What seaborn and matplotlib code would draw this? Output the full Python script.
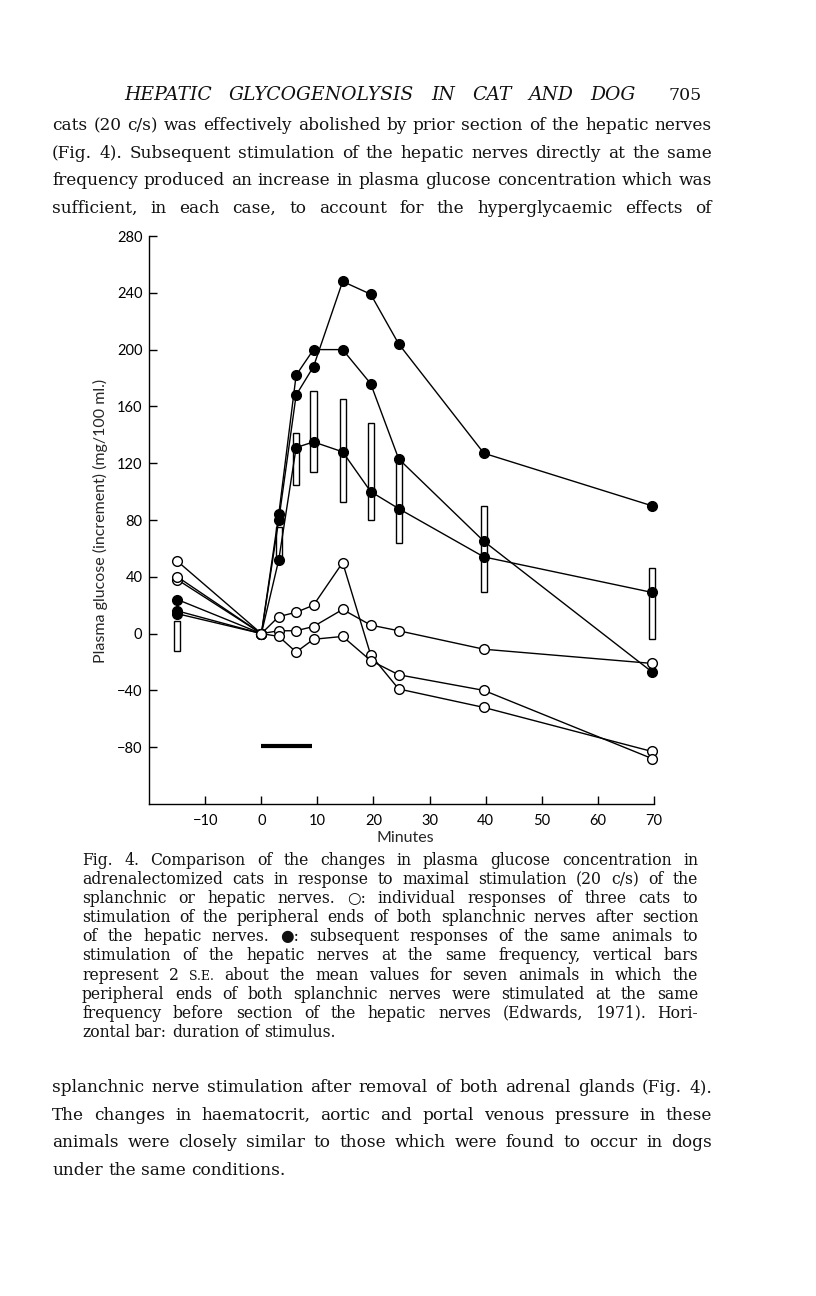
import matplotlib
matplotlib.use("Agg")
import matplotlib.pyplot as plt
import seaborn as sns
import pandas as pd

# ---------------- data ----------------
times = [-15, 0, 3.1, 6.2, 9.3, 14.5, 19.5, 24.5, 39.7, 69.7]
# open circles: splanchnic stimulation after section of hepatic nerves (3 cats)
open_cat1 = [51, 0, 12, 15, 20, 50, -15, -39, -52, -83]
open_cat2 = [38, 0, 2, 2, 5, 17, 6, 2, -11, -21]
open_cat3 = [40, 0, -2, -13, -4, -2, -19, -29, -40, -88]
# filled circles: subsequent hepatic nerve stimulation (same 3 cats)
fill_cat1 = [16, 0, 80, 168, 188, 248, 239, 204, 127, 90]
fill_cat2 = [24, 0, 84, 182, 200, 200, 176, 123, 65, -27]
fill_cat3 = [14, 0, 52, 131, 135, 128, 100, 88, 54, 29]
# vertical bars: mean +/- 2 s.e., seven animals (Edwards, 1971)
bar_times = [-15, 3.1, 6.2, 9.3, 14.5, 19.5, 24.5, 39.7, 69.7]
bar_low = [-12, 53, 105, 114, 93, 80, 64, 29, -4]
bar_high = [9, 75, 141, 171, 165, 148, 125, 90, 46]
# horizontal bar: duration of stimulus
stim_start, stim_end, stim_level = 0, 9, -79

x_ticks = [-10, 0, 10, 20, 30, 40, 50, 60, 70]
y_ticks = [-80, -40, 0, 40, 80, 120, 160, 200, 240, 280]

header = "HEPATIC GLYCOGENOLYSIS IN CAT AND DOG"
page_no = "705"
top_lines = [
    "cats (20 c/s) was effectively abolished by prior section of the hepatic nerves",
    "(Fig. 4). Subsequent stimulation of the hepatic nerves directly at the same",
    "frequency produced an increase in plasma glucose concentration which was",
    "sufficient, in each case, to account for the hyperglycaemic effects of",
]
caption_lines = [
    "Fig. 4. Comparison of the changes in plasma glucose concentration in",
    "adrenalectomized cats in response to maximal stimulation (20 c/s) of the",
    "splanchnic or hepatic nerves. \u25cb: individual responses of three cats to",
    "stimulation of the peripheral ends of both splanchnic nerves after section",
    "of the hepatic nerves. \u25cf: subsequent responses of the same animals to",
    "stimulation of the hepatic nerves at the same frequency, vertical bars",
    "represent 2 \u00a7S.E. about the mean values for seven animals in which the",
    "peripheral ends of both splanchnic nerves were stimulated at the same",
    "frequency before section of the hepatic nerves (Edwards, 1971). Hori-",
    "zontal bar: duration of stimulus.",
]
bottom_lines = [
    "splanchnic nerve stimulation after removal of both adrenal glands (Fig. 4).",
    "The changes in haematocrit, aortic and portal venous pressure in these",
    "animals were closely similar to those which were found to occur in dogs",
    "under the same conditions.",
]

# ---------------- figure ----------------
sns.set_theme(style="ticks")
plt.rcParams["font.family"] = ["Lato", "DejaVu Sans"]
plt.rcParams["axes.unicode_minus"] = True

W, H = 816, 1296
fig = plt.figure(figsize=(W / 100, H / 100), dpi=100, facecolor="white")

ax_l, ax_r, ax_t, ax_b = 149.3, 653.7, 236.0, 804.0
ax = fig.add_axes([ax_l / W, 1 - ax_b / H, (ax_r - ax_l) / W, (ax_b - ax_t) / H])
ax.set_facecolor("white")

# bars (mean +/- 2 s.e.)
ax.bar(bar_times, [h - l for h, l in zip(bar_high, bar_low)], bottom=bar_low,
       width=1.1, color="white", edgecolor="black", linewidth=1.0, zorder=1.5,
       clip_on=False)

n = len(times)
df_fill = pd.DataFrame({
    "time": times * 3,
    "glucose": fill_cat1 + fill_cat2 + fill_cat3,
    "cat": ["a"] * n + ["b"] * n + ["c"] * n,
})
df_open = pd.DataFrame({
    "time": times * 3,
    "glucose": open_cat1 + open_cat2 + open_cat3,
    "cat": ["a"] * n + ["b"] * n + ["c"] * n,
})

sns.lineplot(data=df_fill, x="time", y="glucose", units="cat", estimator=None,
             color="black", linewidth=1.0, marker="o", markersize=7.0,
             markerfacecolor="black", markeredgecolor="black",
             markeredgewidth=1.0, legend=False, ax=ax, zorder=2.5,
             clip_on=False)
sns.lineplot(data=df_open, x="time", y="glucose", units="cat", estimator=None,
             color="black", linewidth=1.0, marker="o", markersize=7.0,
             markerfacecolor="white", markeredgecolor="black",
             markeredgewidth=1.0, legend=False, ax=ax, zorder=3,
             clip_on=False)

ax.plot([stim_start, stim_end], [stim_level, stim_level], color="black",
        linewidth=3.0, solid_capstyle="butt", zorder=3)

ax.set_xlim(-20, 70)
ax.set_ylim(-120, 280)
ax.set_xticks(x_ticks)
ax.set_xticklabels([f"{v}".replace("-", "\u2212") for v in x_ticks])
ax.set_yticks(y_ticks)
ax.set_yticklabels([f"{v}".replace("-", "\u2212") for v in y_ticks])
ax.set_xlabel("")
ax.set_ylabel("")
sns.despine(ax=ax)
for s in ("left", "bottom"):
    ax.spines[s].set_linewidth(1.0)
    ax.spines[s].set_color("black")
ax.tick_params(axis="both", direction="in", length=6, width=1.0,
               colors="black", labelsize=10.5)
ax.tick_params(axis="x", pad=7)
ax.tick_params(axis="y", pad=5)
ax.grid(False)

fig.text(405 / W, 1 - 838 / H, "Minutes", ha="center", va="center",
         fontsize=11.5, family=["Lato", "DejaVu Sans"])
fig.text(100 / W, 1 - 521 / H, "Plasma glucose (increment) (mg/100 ml.)",
         ha="center", va="center", rotation=90, fontsize=11.5,
         family=["Lato", "DejaVu Sans"])

# ---------------- page text ----------------
renderer = fig.canvas.get_renderer()
SERIF = ["DejaVu Serif", "DejaVu Sans"]
_cache = {}


def text_width(s, size, style="normal"):
    key = (s, round(size, 3), style)
    if key not in _cache:
        t = fig.text(0, 0, s, fontsize=size, family=SERIF, style=style)
        _cache[key] = t.get_window_extent(renderer).width
        t.remove()
    return _cache[key]


def parse(line):
    out = []
    for w in line.split(" "):
        if w.startswith("\u00a7"):
            out.append((w[1:], 0.8))
        else:
            out.append((w, 1.0))
    return out


def set_line(line, x0, x1, base, size, justify=True, style="normal"):
    words = parse(line)
    ws = [text_width(w, size * f, style=style) for w, f in words]
    sp = text_width("a a", size, style=style) - text_width("aa", size, style=style)
    gap = (x1 - x0 - sum(ws)) / (len(words) - 1) if (justify and len(words) > 1) else sp
    x = x0
    for (w, f), wd in zip(words, ws):
        fig.text(x / W, 1 - base / H, w, fontsize=size * f, family=SERIF,
                 style=style, ha="left", va="baseline", color="#111111")
        x += wd + gap


def fit_size(lines, x0, x1, idx, min_gap_em, start=14.0):
    size = start
    while size > 6:
        ok = True
        for i in idx:
            words = parse(lines[i])
            tot = sum(text_width(w, size * f) for w, f in words)
            gap = (x1 - x0 - tot) / (len(words) - 1)
            if gap < min_gap_em * size * 100 / 72:
                ok = False
                break
        if ok:
            return size
        size -= 0.1
    return size


BODY_L, BODY_R = 52, 712
CAP_L, CAP_R = 82, 698

# header (running head) and page number
set_line(header, 124, 636, 100, 13.5, justify=True, style="italic")
fig.text(702 / W, 1 - 100 / H, page_no, fontsize=12.5, family=SERIF,
         ha="right", va="baseline", color="#111111")

# body above the figure
bs = fit_size(top_lines + bottom_lines[:3], BODY_L, BODY_R, range(7), 0.30)
for i, ln in enumerate(top_lines):
    set_line(ln, BODY_L, BODY_R, 130 + 27.6 * i, bs, justify=True)

# caption (smaller type, justified)
cs = min(fit_size(caption_lines, CAP_L, CAP_R, range(9), 0.34), bs * 0.92)
for i, ln in enumerate(caption_lines):
    set_line(ln, CAP_L, CAP_R, 865 + 19.1 * i, cs, justify=(i < 9))

# body below the figure
for i, ln in enumerate(bottom_lines):
    set_line(ln, BODY_L, BODY_R, 1092 + 27.6 * i, bs, justify=(i < 3))

fig.savefig("out.png", dpi=100, facecolor="white")
